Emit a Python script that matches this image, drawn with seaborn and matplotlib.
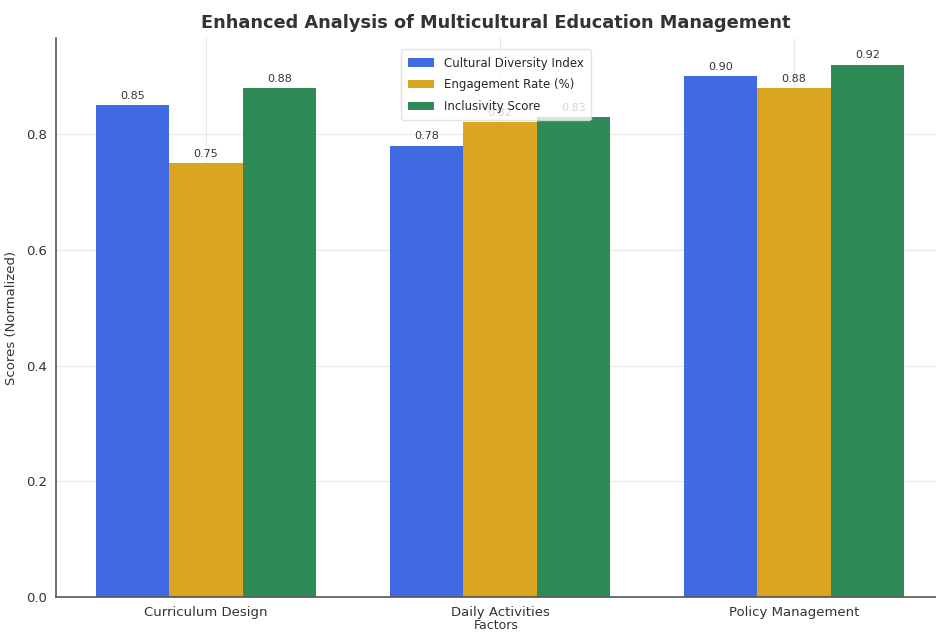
import pandas as pd
import matplotlib
matplotlib.use('Agg')
import matplotlib.pyplot as plt
import seaborn as sns

factors = ['Curriculum Design', 'Daily Activities', 'Policy Management']
series = ['Cultural Diversity Index', 'Engagement Rate (%)', 'Inclusivity Score']
diversity = [0.85, 0.78, 0.90]
engagement = [0.75, 0.82, 0.88]
inclusivity = [0.88, 0.83, 0.92]
colors = ['#4169E1', '#DAA520', '#2E8B57']

df = pd.DataFrame({
    'Factors': factors * 3,
    'Metric': [s for s in series for _ in factors],
    'Score': diversity + engagement + inclusivity,
})

sns.set_style('white')
plt.rcParams['font.family'] = ['DejaVu Sans']

fig = plt.figure(figsize=(9.36, 6.32), dpi=100)
ax = fig.add_axes([56 / 936, 35 / 632, (936 - 56) / 936, (597 - 38) / 632])

sns.barplot(data=df, x='Factors', y='Score', hue='Metric', hue_order=series,
            palette=colors, width=0.75, saturation=1, ax=ax, zorder=2,
            linewidth=0, edgecolor='none')

for cont in ax.containers:
    ax.bar_label(cont, fmt='%.2f', padding=3, fontsize=8, color='#333333')

ax.set_xlim(-0.51, 2.483)
ax.set_ylim(0, 0.966)
ax.set_yticks([0.0, 0.2, 0.4, 0.6, 0.8])
ax.grid(True, color='#e8e8e8', linewidth=0.8, zorder=0)
ax.set_axisbelow(True)
for side in ['top', 'right']:
    ax.spines[side].set_visible(False)
for side in ['left', 'bottom']:
    ax.spines[side].set_color('#555555')
    ax.spines[side].set_linewidth(1.2)
ax.tick_params(axis='both', length=3, color='#555555', labelsize=9.5, labelcolor='#333333')

ax.set_xlabel('Factors', fontsize=9, color='#333333', labelpad=0)
ax.set_ylabel('Scores (Normalized)', fontsize=9.5, color='#333333', labelpad=6)
ax.set_title('Enhanced Analysis of Multicultural Education Management',
             fontsize=12.8, fontweight='bold', color='#333333', x=0.5, pad=7)

ax.legend(loc='upper center', bbox_to_anchor=(0.50, 0.99), fontsize=8.5,
          frameon=True, framealpha=0.8, edgecolor='#dddddd', title=None,
          labelspacing=0.75, borderpad=0.6, handlelength=2.2)

fig.savefig('out.png', dpi=100)
